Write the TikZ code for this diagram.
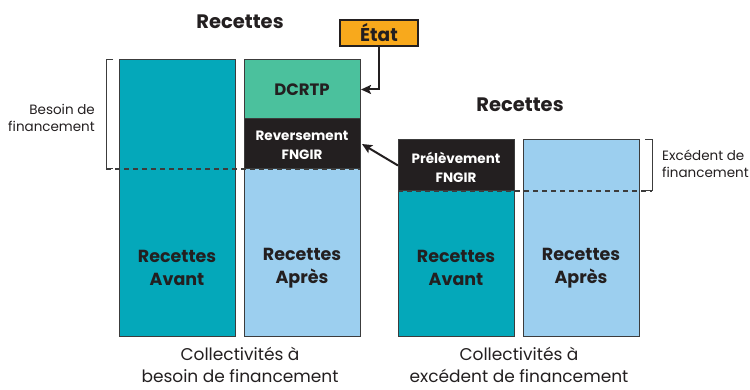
\documentclass[tikz,border=0pt]{standalone}
\usepackage{fontspec}
\setmainfont{Poppins}
\usetikzlibrary{arrows.meta}
\definecolor{tealc}{HTML}{04A8BA}
\definecolor{lblue}{HTML}{9CCFEF}
\definecolor{greenc}{HTML}{4BC19D}
\definecolor{blackc}{HTML}{231F20}
\definecolor{orangec}{HTML}{F8A91C}
\definecolor{edge}{HTML}{3C3C3C}
\definecolor{txt}{HTML}{231F20}
\begin{document}
\begin{tikzpicture}[x=1pt,y=-1pt,
  bar/.style={draw=edge,line width=1pt,inner sep=0pt,outer sep=0pt,anchor=north west,minimum width=116pt},
  lab/.style={font=\fontsize{17.5}{23}\selectfont\bfseries,text=txt,align=center,inner sep=0pt},
  wlab/.style={font=\fontsize{13.5}{19}\selectfont\bfseries,text=white,align=center,inner sep=0pt},
  title/.style={font=\fontsize{19.5}{24}\selectfont\bfseries,text=txt,inner sep=0pt},
  caption/.style={font=\fontsize{17}{21.5}\selectfont,text=txt,align=center,inner sep=0pt},
  side/.style={font=\fontsize{13.5}{17}\selectfont,text=txt,inner sep=0pt},
  conn/.style={draw=blackc,line width=2pt,-{Stealth[length=10pt,width=9pt,inset=2pt]}},
  brk/.style={draw=edge,line width=1pt},
  dashline/.style={draw=edge,line width=1.2pt,dash pattern=on 5pt off 4pt}
]
\useasboundingbox (0,0) rectangle (750,390);
% left group
\node[bar,fill=tealc,minimum height=276pt] (avant1) at (119,60) {};
\node[bar,fill=lblue,minimum height=167pt] (apres1) at (244,169) {};
\node[bar,fill=blackc,minimum height=50pt] (rev) at (244,119) {};
\node[bar,fill=greenc,minimum height=59pt] (dcrtp) at (244,60) {};
% right group
\node[bar,fill=tealc,minimum height=145pt] (avant2) at (398,191) {};
\node[bar,fill=blackc,minimum height=51pt] (prel) at (398,140) {};
\node[bar,fill=lblue,minimum height=196pt] (apres2) at (523,140) {};
% dashed lines
\coordinate (bl1) at (106,169);
\coordinate (br2) at (652,191);
\draw[dashline] (bl1) -- (apres1.north east);
\draw[dashline] (avant2.north west) -- (br2);
% brackets
\draw[brk] (113,60) -- (106,60) -- (bl1) -- (113,169);
\draw[brk] (645,140) -- (652,140) -- (br2) -- (645,191);
% labels
\node[lab] (la1) at (177,268) {Recettes\\Avant};
\node[lab] (la2) at (302,268) {Recettes\\Après};
\node[lab] (la3) at (456,268) {Recettes\\Avant};
\node[lab] (la4) at (581,268) {Recettes\\Après};
\node[font=\fontsize{16.5}{20}\selectfont\bfseries,text=txt,inner sep=0pt] (ld) at (302,90) {DCRTP};
\node[wlab] (lr) at (302,145) {Reversement\\FNGIR};
\node[wlab] (lp) at (456,167) {Prélèvement\\FNGIR};
\node[title] (t1) at (240,22) {Recettes};
\node[title] (t2) at (520,105) {Recettes};
\node[caption] (c1) at (240,365) {Collectivités à\\besoin de financement};
\node[caption] (c2) at (519,365) {Collectivités à\\excédent de financement};
\node[side,align=right,anchor=east] (s1) at (95,118) {Besoin de\\financement};
\node[side,align=left,anchor=west] (s2) at (662,164) {Excédent de\\financement};
% Etat
\node[draw=blackc,line width=1.2pt,fill=orangec,minimum width=78pt,minimum height=26pt,inner sep=0pt,font=\fontsize{18.5}{22}\selectfont\bfseries,text=txt] (etat) at (379,33) {État};
% connectors
\draw[conn] (etat.south) |- ([xshift=1pt]dcrtp.east);
\draw[conn] (prel.west) -- ([xshift=2pt]rev.east);
\end{tikzpicture}
\end{document}
